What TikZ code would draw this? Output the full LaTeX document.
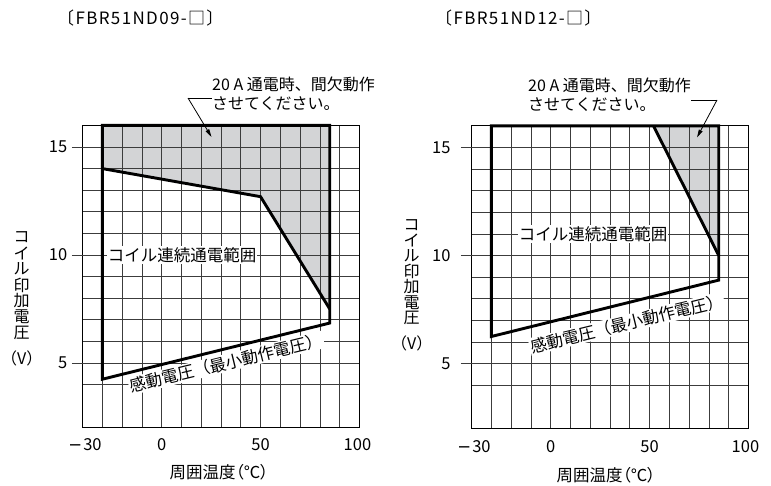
\documentclass[tikz,border=0pt]{standalone}
\usepackage{fontspec}
\setmainfont{Noto Sans CJK JP}
\newfontfamily\jpfont{Noto Sans CJK JP}
\newfontfamily\jppal[RawFeature=+palt]{Noto Sans CJK JP}
\newfontfamily\jptitle[LetterSpace=8]{Noto Sans CJK JP}
\newfontfamily\minusfont{DejaVu Sans}
\usetikzlibrary{arrows.meta}
\definecolor{areagray}{RGB}{211,212,214}
\definecolor{gridgray}{RGB}{60,60,60}
\begin{document}
\begin{tikzpicture}[x=1pt,y=-1pt,
  gridl/.style={draw=gridgray,line width=0.7pt},
  framel/.style={draw=black,line width=1pt},
  heavyline/.style={draw=black,line width=2.9pt,line join=miter},
  numlab/.style={font=\jpfont\fontsize{16.5}{18}\selectfont,inner sep=0pt},
  jlab/.style={font=\jpfont\fontsize{16.5}{18}\selectfont,inner sep=1pt,fill=white},
  ylab/.style={font=\jpfont\fontsize{16}{16}\selectfont,inner sep=0pt},
  xtitle/.style={font=\jppal\fontsize{16.5}{18}\selectfont,inner sep=0pt},
  notetext/.style={font=\jpfont\fontsize{16}{19}\selectfont,inner sep=0pt,align=left},
  titletext/.style={font=\jptitle\fontsize{17}{19}\selectfont,inner sep=0pt},
  leader/.style={draw=black,line width=0.8pt},
  pointer/.style={leader,-{Triangle[length=8pt,width=4pt]}},
]
\useasboundingbox (0,0) rectangle (771,485);
\fill[white] (0,0) rectangle (771,485);

% ---------------- titles ----------------
\node[titletext,anchor=west] (titleL) at (57,18) {〔FBR51ND09-□〕};
\node[titletext,anchor=west] (titleR) at (435,18) {〔FBR51ND12-□〕};

% ---------------- left chart ----------------
\begin{scope}[shift={(161.7,471)},x=1.977pt,y=21.6pt]
  \fill[areagray] (-30,16) -- (85,16) -- (85,7.5) -- (50,12.7) -- (-30,14) -- cycle;
  \foreach \t in {-30,-20,...,90} \draw[gridl] (\t,2) -- (\t,16);
  \foreach \v in {4,...,15} \draw[gridl] (-40,\v) -- (100,\v);
  \draw[framel] (-40,2) rectangle (100,16);
  \foreach \v in {5,10,15} \draw[gridl] (-45.4,\v) -- (-40,\v);
  \draw[heavyline] (-30,4.25) -- (85,6.85) -- (85,16) -- (-30,16) -- cycle;
  \draw[heavyline] (-30,14) -- (50,12.7) -- (85,7.5);
  \node[numlab,anchor=east] (lyA) at (-47.7,15) {15};
  \node[numlab,anchor=east] (lyB) at (-47.7,10) {10};
  \node[numlab,anchor=east] (lyC) at (-47.7,5) {5};
  \node[numlab,anchor=east] (lxA) at (-30.3,1.2) {{\minusfont −}\kern1pt30};
  \node[numlab] (lxB) at (0,1.2) {0};
  \node[numlab] (lxC) at (50,1.2) {50};
  \node[numlab] (lxD) at (99,1.2) {100};
  \node[jlab] (contL) at (10.3,10) {コイル連続通電範囲};
  \node[jlab,rotate=13.7] (pickL) at (32.6,5.0) {感動電圧（最小動作電圧）};
\end{scope}
\node[xtitle] (xtL) at (219,472) {周囲温度（℃）};
\foreach \c [count=\i] in {コ,イ,ル,印,加,電,圧}
  \node[ylab] (ytL\i) at (21.7,{237+16*(\i-1)}) {\c};
\node[ylab] (ytLv) at (21.7,358) {（V）};
\node[notetext,anchor=north west] (noteL) at (212,77) {20 A 通電時、間欠動作\\させてください。};
\coordinate (kneeL) at (188,98);
\coordinate (tipL) at (211.5,137);
\draw[leader] (kneeL) -- (kneeL -| noteL.west);
\draw[pointer] (kneeL) -- (tipL);

% ---------------- right chart ----------------
\begin{scope}[shift={(550.7,471.5)},x=1.977pt,y=21.6pt]
  \fill[areagray] (52,16) -- (85,16) -- (85,10) -- cycle;
  \foreach \t in {-30,-20,...,90} \draw[gridl] (\t,2) -- (\t,16);
  \foreach \v in {4,...,15} \draw[gridl] (-40,\v) -- (100,\v);
  \draw[framel] (-40,2) rectangle (100,16);
  \foreach \v in {5,10,15} \draw[gridl] (-45.4,\v) -- (-40,\v);
  \draw[heavyline] (-30,6.25) -- (85,8.86) -- (85,16) -- (-30,16) -- cycle;
  \draw[heavyline] (52,16) -- (85,10);
  \node[numlab,anchor=east] (ryA) at (-50.6,15) {15};
  \node[numlab,anchor=east] (ryB) at (-50.6,10) {10};
  \node[numlab,anchor=east] (ryC) at (-50.6,5) {5};
  \node[numlab,anchor=east] (rxA) at (-30.3,1.15) {{\minusfont −}\kern1pt30};
  \node[numlab] (rxB) at (0,1.15) {0};
  \node[numlab] (rxC) at (50,1.15) {50};
  \node[numlab] (rxD) at (98.5,1.15) {100};
  \node[jlab] (contR) at (21.5,11) {コイル連続通電範囲};
  \node[jlab,rotate=13.7] (pickR) at (38.5,6.85) {感動電圧（最小動作電圧）};
\end{scope}
\node[xtitle] (xtR) at (606,475) {周囲温度（℃）};
\foreach \c [count=\i] in {コ,イ,ル,印,加,電,圧}
  \node[ylab] (ytR\i) at (411.7,{225+15.5*(\i-1)}) {\c};
\node[ylab] (ytRv) at (411.7,343) {（V）};
\node[notetext,anchor=north west] (noteR) at (528,78) {20 A 通電時、間欠動作\\させてください。};
\coordinate (kneeR) at (717,100);
\coordinate (tipR) at (697,137.5);
\draw[leader] (kneeR) -- (kneeR -| noteR.east);
\draw[pointer] (kneeR) -- (tipR);
\end{tikzpicture}
\end{document}
